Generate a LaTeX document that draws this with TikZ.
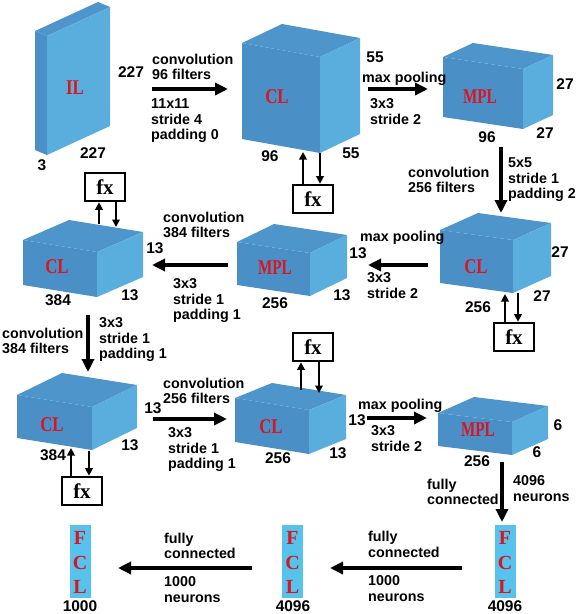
\documentclass[tikz,border=0pt]{standalone}
\usepackage{fontspec}
\usepackage{graphicx}
\setmainfont{Liberation Serif}
\setsansfont{Liberation Sans}
\usetikzlibrary{arrows.meta}
\definecolor{frontc}{HTML}{4A8FC6}
\definecolor{sidec}{HTML}{5AAEDD}
\definecolor{topc}{HTML}{4E95CB}
\definecolor{fclc}{HTML}{55C3EB}
\definecolor{redc}{HTML}{DC141E}
% #1,#2 front-top-left; #3,#4 width vector; #5 height; #6,#7 depth vector
\newcommand\mycuboid[7]{%
  \fill[frontc] (#1,#2) -- ++(#3,#4) -- ++(0,#5) -- ([shift={(0,#5)}]#1,#2) -- cycle;
  \fill[topc] (#1,#2) -- ++(#3,#4) -- ++(#6,#7) -- ([shift={(#6,#7)}]#1,#2) -- cycle;
  \fill[sidec] ([shift={(#3,#4)}]#1,#2) -- ++(#6,#7) -- ++(0,#5) -- ([shift={(#3,#4+#5)}]#1,#2) -- cycle;
}
\begin{document}
\begin{tikzpicture}[x=1pt,y=-1pt,
  lbl/.style={font=\sffamily\bfseries\fontsize{14.3}{15.5}\selectfont, inner sep=0pt, align=left, anchor=north west},
  num/.style={font=\sffamily\bfseries\fontsize{15.5}{15.5}\selectfont, inner sep=0pt},
  layer/.style={font=\rmfamily\bfseries\fontsize{21}{21}\selectfont, text=redc, inner sep=0pt},
  fcltext/.style={font=\rmfamily\bfseries\fontsize{20}{20}\selectfont, text=redc, inner sep=0pt},
  fxbox/.style={draw, line width=2.6pt, minimum width=40pt, minimum height=28pt, inner sep=0pt, font=\rmfamily\bfseries\fontsize{21}{21}\selectfont, fill=white},
  bigarrow/.style={line width=3.3pt, -{Triangle[length=13pt,width=12pt]}},
  fxarrow/.style={line width=2pt, -{Triangle[length=7.5pt,width=7.5pt]}},
  fcl/.style={fill=fclc, draw=none, minimum width=21pt, minimum height=73pt, inner sep=0pt}]
\useasboundingbox (0,0) rectangle (576,614);

% ---------- cuboids ----------
\mycuboid{35}{31}{12}{5}{119}{63}{-29}     % IL
\mycuboid{242}{43}{78}{14}{96}{40}{-19}    % CL1
\mycuboid{443}{57}{80}{12}{60}{30}{-14}    % MPL1
\mycuboid{440}{230}{73}{10}{53}{38}{-17}   % CL3
\mycuboid{237}{242}{73}{11}{43}{37}{-18}   % MPL2
\mycuboid{23}{240}{74}{12}{45}{46}{-20}    % CL2
\mycuboid{17}{395}{75}{12}{43}{45}{-22}    % CL4
\mycuboid{235}{398}{74}{12}{44}{37}{-15}   % CL5
\mycuboid{438}{413}{74}{9}{33}{36}{-16}    % MPL3

% ---------- layer names ----------
\node[layer] (nIL)   at (75,88)  {\scalebox{0.8}[1]{IL}};
\node[layer] (nCL1)  at (277,97) {\scalebox{0.8}[1]{CL}};
\node[layer] (nMPL1) at (480,97) {\scalebox{0.72}[1]{MPL}};
\node[layer] (nCL3)  at (476,267){\scalebox{0.8}[1]{CL}};
\node[layer] (nMPL2) at (275,268){\scalebox{0.72}[1]{MPL}};
\node[layer] (nCL2)  at (57,267) {\scalebox{0.8}[1]{CL}};
\node[layer] (nCL4)  at (52,425) {\scalebox{0.8}[1]{CL}};
\node[layer] (nCL5)  at (271,427){\scalebox{0.8}[1]{CL}};
\node[layer] (nMPL3) at (478,430){\scalebox{0.72}[1]{MPL}};

% ---------- dimension numbers ----------
\node[num] (d1)  at (131,72)  {227};
\node[num] (d2)  at (42,165)  {3};
\node[num] (d3)  at (93,153)  {227};
\node[num] (d4)  at (270,156) {96};
\node[num] (d5)  at (351,153) {55};
\node[num] (d6)  at (375,57)  {55};
\node[num] (d7)  at (565,84)  {27};
\node[num] (d8)  at (545,133) {27};
\node[num] (d9)  at (487,137) {96};
\node[num] (d10) at (560,252) {27};
\node[num] (d11) at (542,296) {27};
\node[num] (d12) at (478,307) {256};
\node[num] (d13) at (358,253) {13};
\node[num] (d14) at (342,295) {13};
\node[num] (d15) at (275,303) {256};
\node[num] (d16) at (155,248) {13};
\node[num] (d17) at (130,295) {13};
\node[num] (d18) at (58,300)  {384};
\node[num] (d19) at (153,408) {13};
\node[num] (d20) at (130,445) {13};
\node[num] (d21) at (53,455)  {384};
\node[num] (d22) at (357,420) {13};
\node[num] (d23) at (338,453) {13};
\node[num] (d24) at (278,458) {256};
\node[num] (d25) at (558,425) {6};
\node[num] (d26) at (537,452) {6};
\node[num] (d27) at (477,461) {256};
\node[num] (d28) at (80,606)  {1000};
\node[num] (d29) at (293,606) {4096};
\node[num] (d30) at (505,606) {4096};

% ---------- operation labels ----------
\node[lbl] (l1)  at (152,53.5)  {convolution\\96 filters};
\node[lbl] (l2)  at (151,98.5)  {11x11\\stride 4\\padding 0};
\node[lbl] (l3)  at (362,71.5)  {max pooling};
\node[lbl] (l4)  at (370,98.5)  {3x3\\stride 2};
\node[lbl] (l5)  at (408,166.5) {convolution\\256 filters};
\node[lbl] (l6)  at (508,157.5) {5x5\\stride 1\\padding 2};
\node[lbl] (l7)  at (360,230.5) {max pooling};
\node[lbl] (l8)  at (367,272.5) {3x3\\stride 2};
\node[lbl] (l9)  at (163,211.5) {convolution\\384 filters};
\node[lbl] (l10) at (173,278.5) {3x3\\stride 1\\padding 1};
\node[lbl] (l11) at (99,317.5)  {3x3\\stride 1\\padding 1};
\node[lbl] (l12) at (2,327.5)   {convolution\\384 filters};
\node[lbl] (l13) at (163,377.5) {convolution\\256 filters};
\node[lbl] (l14) at (168,427.5) {3x3\\stride 1\\padding 1};
\node[lbl] (l15) at (358,398.5) {max pooling};
\node[lbl] (l16) at (371,425.5) {3x3\\stride 2};
\node[lbl] (l17) at (427,478.5) {fully\\connected};
\node[lbl] (l18) at (513,475.5) {4096\\neurons};
\node[lbl] (l19) at (164,532.5) {fully\\connected};
\node[lbl] (l20) at (164,576.5) {1000\\neurons};
\node[lbl] (l21) at (368,531)   {fully\\connected};
\node[lbl] (l22) at (368,575.5) {1000\\neurons};

% ---------- fully connected layers ----------
\node[fcl] (fcl1) at (80,561.5)  {};
\node[fcl] (fcl2) at (292.5,561.5) {};
\node[fcl] (fcl3) at (505,561.5) {};
\foreach \n/\x in {1/80, 2/292.5, 3/505} {
  \node[fcltext] (fclF\n) at (\x,538) {F};
  \node[fcltext] (fclC\n) at (\x,563) {C};
  \node[fcltext] (fclL\n) at (\x,587) {L};
}

% ---------- fx boxes ----------
\node[fxbox] (fxA) at (105,187) {fx};
\node[fxbox] (fxB) at (313,199) {fx};
\node[fxbox] (fxC) at (514,337) {fx};
\node[fxbox] (fxD) at (313,347) {fx};
\node[fxbox] (fxE) at (82,491)  {fx};

% cube attachment points
\coordinate (cA1) at (99,224);
\coordinate (cA2) at (116,227);
\coordinate (cB1) at (303,152);
\coordinate (cB2) at (320,153);
\coordinate (cC1) at (505,294);
\coordinate (cC2) at (518,293);
\coordinate (cD1) at (301,390);
\coordinate (cD2) at (319,393);
\coordinate (cE1) at (71,448);
\coordinate (cE2) at (89,451);

\draw[fxarrow] (cA1) -- (cA1 |- fxA.south);
\draw[fxarrow] (cA2 |- fxA.south) -- (cA2);
\draw[fxarrow] (cB1 |- fxB.north) -- (cB1);
\draw[fxarrow] (cB2) -- (cB2 |- fxB.north);
\draw[fxarrow] (cC1 |- fxC.north) -- (cC1);
\draw[fxarrow] (cC2) -- (cC2 |- fxC.north);
\draw[fxarrow] (cD1) -- (cD1 |- fxD.south);
\draw[fxarrow] (cD2 |- fxD.south) -- (cD2);
\draw[fxarrow] (cE1 |- fxE.north) -- (cE1);
\draw[fxarrow] (cE2) -- (cE2 |- fxE.north);

% ---------- main arrows ----------
\coordinate (a1s) at (152,89);  \coordinate (a1e) at (228,89);
\coordinate (a2s) at (368,89);  \coordinate (a2e) at (428,89);
\coordinate (a3s) at (501,147); \coordinate (a3e) at (501,213);
\coordinate (a4s) at (428,265); \coordinate (a4e) at (368,265);
\coordinate (a5s) at (228,265); \coordinate (a5e) at (152,265);
\coordinate (a6s) at (88,315);  \coordinate (a6e) at (88,372);
\coordinate (a7s) at (153,419); \coordinate (a7e) at (227,419);
\coordinate (a8s) at (367,418); \coordinate (a8e) at (427,418);
\coordinate (a9s) at (502,462); \coordinate (a9e) at (502,522);
\coordinate (a10s) at (462,568); \coordinate (a10e) at (330,568);
\coordinate (a11s) at (252,568); \coordinate (a11e) at (118,568);
\foreach \i in {1,...,11} { \draw[bigarrow] (a\i s) -- (a\i e); }
\end{tikzpicture}
\end{document}
